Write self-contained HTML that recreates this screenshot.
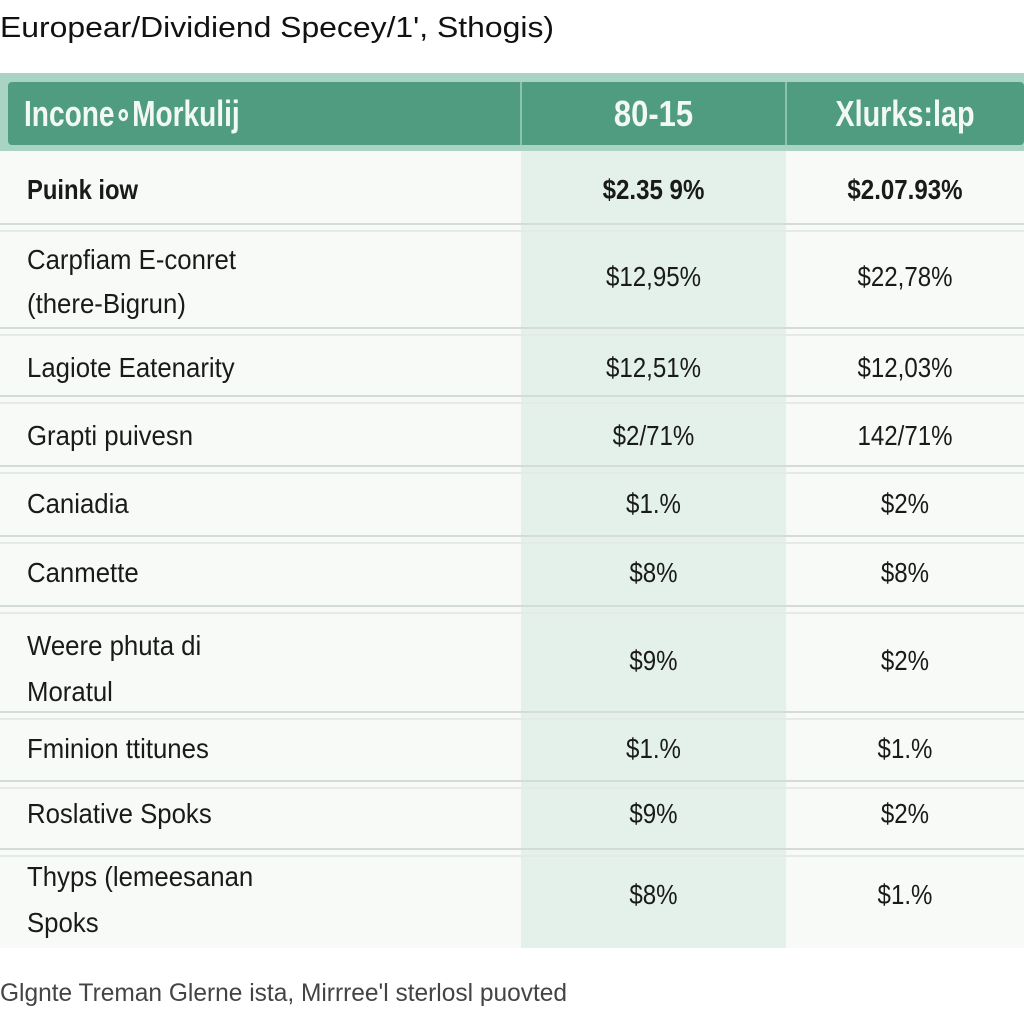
<!DOCTYPE html>
<html><head><meta charset="utf-8"><style>
body{margin:0;width:1024px;height:1024px;background:#fff;position:relative;overflow:hidden;font-family:"Liberation Sans",sans-serif;color:#1a1a1a}
.a{position:absolute;white-space:nowrap}
.l{left:27px;font-size:28px;transform:scaleX(0.92);transform-origin:left top}
.c1{left:521px;width:265px;text-align:center;font-size:28px;transform:scaleX(0.86)}
.c2{left:786px;width:238px;text-align:center;font-size:28px;transform:scaleX(0.86)}
.sep{position:absolute;left:0;width:1024px;height:5px;border-top:2px solid #d4dcd8;border-bottom:2px solid #e4eae7}
</style></head><body>
<div class="a" style="left:0;top:12px;font-size:29px;color:#111;transform:scaleX(1.1);transform-origin:left top">Europear/Dividiend Specey/1', Sthogis)</div>
<div class="a" style="left:0;top:73px;width:1024px;height:78px;background:#a9d3c2"></div>
<div class="a" style="left:8px;top:82px;width:1016px;height:63px;background:#4f9c80;border-radius:4px"></div>
<div class="a" style="left:520px;top:82px;width:2px;height:63px;background:#8dc3ae"></div>
<div class="a" style="left:785px;top:82px;width:2px;height:63px;background:#8dc3ae"></div>
<div class="a" style="left:0;top:151px;width:1024px;height:797px;background:#f8faf8"></div>
<div class="a" style="left:521px;top:151px;width:265px;height:797px;background:#e3f1ea"></div>
<div class="a" style="left:24px;top:93px;font-size:36px;color:#f2f8f5;font-weight:bold;transform:scaleX(0.78);transform-origin:left top">Incone&#x2218;Morkulij</div>
<div class="a c1" style="top:93px;font-size:36px;color:#f2f8f5;font-weight:bold">80-15</div>
<div class="a c2" style="top:93px;font-size:36px;color:#f2f8f5;font-weight:bold;transform:scaleX(0.8)">Xlurks:lap</div>

<div class="a l" style="top:174px;font-weight:bold;transform:scaleX(0.85)">Puink iow</div>
<div class="a c1" style="top:174px;font-weight:bold">$2.35 9%</div>
<div class="a c2" style="top:174px;font-weight:bold">$2.07.93%</div>
<div class="sep" style="top:223px"></div>

<div class="a l" style="top:238px;line-height:44px">Carpfiam E-conret<br>(there-Bigrun)</div>
<div class="a c1" style="top:261px">$12,95%</div>
<div class="a c2" style="top:261px">$22,78%</div>
<div class="sep" style="top:327px"></div>

<div class="a l" style="top:352px">Lagiote Eatenarity</div>
<div class="a c1" style="top:352px">$12,51%</div>
<div class="a c2" style="top:352px">$12,03%</div>
<div class="sep" style="top:395px"></div>

<div class="a l" style="top:420px">Grapti puivesn</div>
<div class="a c1" style="top:420px">$2/71%</div>
<div class="a c2" style="top:420px">142/71%</div>
<div class="sep" style="top:465px"></div>

<div class="a l" style="top:488px">Caniadia</div>
<div class="a c1" style="top:488px">$1.%</div>
<div class="a c2" style="top:488px">$2%</div>
<div class="sep" style="top:535px"></div>

<div class="a l" style="top:557px">Canmette</div>
<div class="a c1" style="top:557px">$8%</div>
<div class="a c2" style="top:557px">$8%</div>
<div class="sep" style="top:605px"></div>

<div class="a l" style="top:623px;line-height:46px">Weere phuta di<br>Moratul</div>
<div class="a c1" style="top:645px">$9%</div>
<div class="a c2" style="top:645px">$2%</div>
<div class="sep" style="top:711px"></div>

<div class="a l" style="top:733px">Fminion ttitunes</div>
<div class="a c1" style="top:733px">$1.%</div>
<div class="a c2" style="top:733px">$1.%</div>
<div class="sep" style="top:780px"></div>

<div class="a l" style="top:798px">Roslative Spoks</div>
<div class="a c1" style="top:798px">$9%</div>
<div class="a c2" style="top:798px">$2%</div>
<div class="sep" style="top:848px"></div>

<div class="a l" style="top:854px;line-height:46px">Thyps (lemeesanan<br>Spoks</div>
<div class="a c1" style="top:879px">$8%</div>
<div class="a c2" style="top:879px">$1.%</div>

<div class="a" style="left:0;top:979px;font-size:25px;color:#444;transform:scaleX(0.98);transform-origin:left top">Glgnte Treman Glerne ista, Mirrree'l sterlosl puovted</div>
</body></html>
